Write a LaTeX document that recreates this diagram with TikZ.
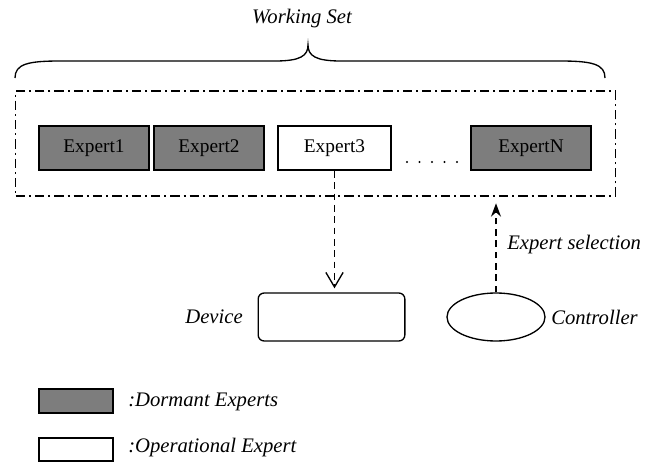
\documentclass[tikz,border=0pt]{standalone}
\usepackage{fontspec}
\setmainfont{LiberationSerif}[Extension=.ttf, UprightFont=*-Regular, ItalicFont=*-Italic, BoldFont=*-Bold, BoldItalicFont=*-BoldItalic]
\usetikzlibrary{arrows.meta,shapes.geometric}
\tikzset{
  expertbox/.style={draw=black, line width=1.3pt, minimum height=33pt, inner sep=0pt,
    font=\fontsize{14.5}{17}\selectfont},
  dormant/.style={expertbox, fill=gray!98!black},
  operational/.style={expertbox, fill=white},
  lbl/.style={inner sep=0pt, font=\fontsize{15.5}{18}\selectfont\itshape},
  dashdot/.style={line width=1pt, dash pattern=on 7pt off 3pt on 1.5pt off 3pt},
  flow/.style={line width=1pt, dash pattern=on 5pt off 3.5pt},
}
\begin{document}
\begin{tikzpicture}[x=0.75pt,y=-0.75pt]
\useasboundingbox (0,0) rectangle (654,464);

% title and brace over the working set
\node[lbl] (wstitle) at (302,19) {Working Set};
\draw[line width=1pt] (15,78) .. controls (15,64) and (28,61) .. (60,61)
  -- (275,61) .. controls (300,61) and (308,56) .. (308,45)
  .. controls (308,56) and (316,61) .. (341,61)
  -- (560,61) .. controls (592,61) and (605,64) .. (605,78);

% working set frame
\node[draw, dashdot, minimum width=450pt, minimum height=78.75pt, inner sep=0pt] (ws) at (315.5,143.5) {};

% experts
\node[dormant, minimum width=82.5pt] (e1) at (94,148) {Expert1};
\node[dormant, minimum width=82.5pt] (e2) at (209,148) {Expert2};
\node[operational, minimum width=84.75pt] (e3) at (334.5,148) {Expert3};
\node[dormant, minimum width=90pt] (eN) at (531,148) {ExpertN};
\foreach \i in {0,...,4} \fill (407+12.5*\i,162) circle (0.8pt);

% device and controller
\node[draw, line width=1pt, rounded corners=4.5pt, minimum width=110pt, minimum height=36pt] (dev) at (331.5,317) {};
\node[lbl, anchor=east] (devlbl) at (243,317) {Device};
\node[draw, ellipse, line width=1pt, minimum width=73.5pt, minimum height=36pt, inner sep=0pt] (ctl) at (496,317) {};
\node[lbl, anchor=west] (ctllbl) at (551,317) {Controller};

% connectors
\draw[flow, -{Straight Barb[length=11pt,width=13pt,line width=1pt]}, shorten >=3pt]
  (e3.south) -- (e3.south |- dev.north);
\draw[flow, -{Stealth[length=10pt,width=7.5pt]}, shorten >=5pt]
  (ctl.north) -- (ctl.north |- ws.south);
\node[lbl, anchor=west] (sel) at (507,245) {Expert selection};

% legend
\node[dormant, minimum width=55.5pt, minimum height=18pt] (legd) at (76,401) {};
\node[lbl, anchor=west] (legdl) at (128,402) {:Dormant Experts};
\node[operational, minimum width=55.5pt, minimum height=17pt] (lego) at (76,449.5) {};
\node[lbl, anchor=west] (legol) at (128,448) {:Operational Expert};
\end{tikzpicture}
\end{document}
